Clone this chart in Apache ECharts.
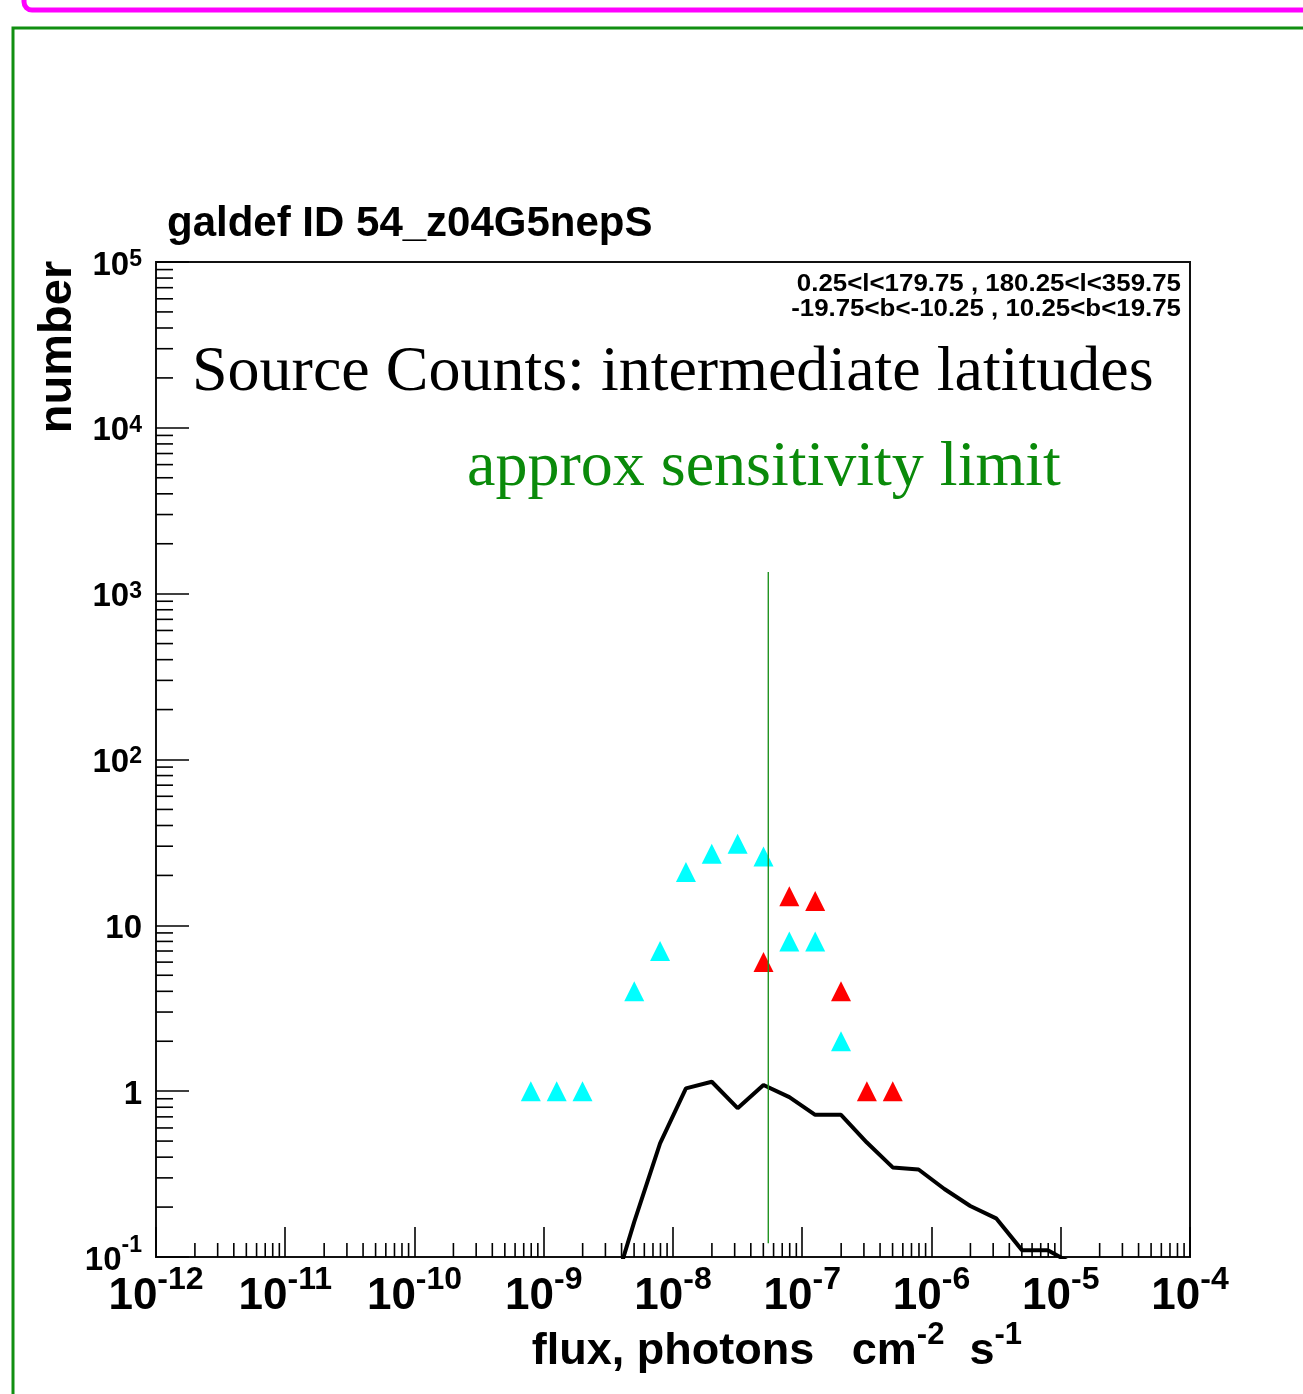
<!DOCTYPE html>
<html>
<head>
<meta charset="utf-8">
<title>Source Counts: intermediate latitudes</title>
<style>
  html, body { margin: 0; padding: 0; background: #ffffff; }
  #chart { width: 1303px; height: 1394px; }
</style>
<script src="https://cdn.jsdelivr.net/npm/echarts@6.0.0/dist/echarts.min.js"></script>
</head>
<body>
<div id="chart"></div>
<script>
// Histogram bin centres, log10(flux / photons cm^-2 s^-1), 0.2-decade bins
const fluxLogCyan = [-9.1, -8.9, -8.7, -8.3, -8.1, -7.9, -7.7, -7.5, -7.3, -7.1, -6.9, -6.7];
const countsCyan  = [1, 1, 1, 4, 7, 21, 27, 31, 26, 8, 8, 2];

const fluxLogRed = [-7.3, -7.1, -6.9, -6.7, -6.5, -6.3];
const countsRed  = [6, 15, 14, 4, 1, 1];

// Model source counts per bin
const fluxLogModel = [-8.5, -8.3, -8.1, -7.9, -7.7, -7.5, -7.3, -7.1, -6.9, -6.7,
                      -6.5, -6.3, -6.1, -5.9, -5.7, -5.5, -5.3, -5.1, -4.9];
const countsModel  = [0.05, 0.163, 0.485, 1.04, 1.14, 0.79, 1.09, 0.92, 0.72, 0.72,
                      0.49, 0.347, 0.337, 0.257, 0.203, 0.171, 0.110, 0.110, 0.09];

// Approximate sensitivity limit marker
const sensitivityFlux = 5.46e-8;
const sensitivitySpan = [0.121, 1350];

// Axis decades (tick label exponents)
const xTickExponents = [-12, -11, -10, -9, -8, -7, -6, -5, -4];
const yTickExponents = [-1, 0, 1, 2, 3, 4, 5];

const titleText = 'galdef ID 54_z04G5nepS';
const rangeLines = ['0.25<l<179.75 , 180.25<l<359.75', '-19.75<b<-10.25 , 10.25<b<19.75'];
const headline = 'Source Counts: intermediate latitudes';
const limitText = 'approx sensitivity limit';

const SANS = '"Liberation Sans", Arial, Helvetica, sans-serif';
const SERIF = '"Liberation Serif", "Times New Roman", serif';

const toFlux = l => Math.pow(10, l);
const cyanPoints  = fluxLogCyan.map((l, i) => [toFlux(l), countsCyan[i]]);
const redPoints   = fluxLogRed.map((l, i) => [toFlux(l), countsRed[i]]);
const modelPoints = fluxLogModel.map((l, i) => [toFlux(l), countsModel[i]]);
const limitPoints = sensitivitySpan.map(v => [sensitivityFlux, v]);

const xMin = toFlux(xTickExponents[0]);
const xMax = toFlux(xTickExponents[xTickExponents.length - 1]);
const yMin = toFlux(yTickExponents[0]);
const yMax = toFlux(yTickExponents[yTickExponents.length - 1]);

// Minor ticks at 2..9 x 10^n along both log axes
function renderMinorTicks(params, api) {
  const children = [];
  const tickStyle = { stroke: '#000', lineWidth: 1.6 };
  for (let i = 0; i < xTickExponents.length - 1; i++) {
    for (let k = 2; k <= 9; k++) {
      const p = api.coord([k * toFlux(xTickExponents[i]), yMin]);
      children.push({ type: 'line', shape: { x1: p[0], y1: p[1], x2: p[0], y2: p[1] - 14 }, style: tickStyle });
    }
  }
  for (let i = 0; i < yTickExponents.length - 1; i++) {
    for (let k = 2; k <= 9; k++) {
      const p = api.coord([xMin, k * toFlux(yTickExponents[i])]);
      children.push({ type: 'line', shape: { x1: p[0], y1: p[1], x2: p[0] + 17, y2: p[1] }, style: tickStyle });
    }
  }
  return { type: 'group', children: children };
}

// Superscript token: bottom padding lifts the glyphs by half its size
function supStyle(size, lineHeight, lift) {
  return { fontFamily: SANS, fontWeight: 'bold', fontSize: size, lineHeight: lineHeight,
           color: '#000', padding: [0, 0, 2 * lift, 0] };
}

const chart = echarts.init(document.getElementById('chart'), null, { renderer: 'canvas' });

chart.setOption({
  animation: false,
  backgroundColor: '#ffffff',
  grid: {
    left: 156, top: 262, width: 1034, height: 995,
    show: true, borderColor: '#111', borderWidth: 2,
    containLabel: false, outerBoundsMode: 'none'
  },
  xAxis: {
    type: 'log', logBase: 10, min: xMin, max: xMax, splitNumber: 8,
    axisLine: { show: true, onZero: false, lineStyle: { color: '#111', width: 2 } },
    axisTick: { show: true, inside: true, length: 30, lineStyle: { color: '#000', width: 1.6 } },
    splitLine: { show: false },
    minorTick: { show: false },
    axisLabel: {
      margin: 18,
      formatter: v => '{m|10}{s|' + Math.round(Math.log10(v)) + '}',
      rich: {
        m: { fontFamily: SANS, fontWeight: 'bold', fontSize: 44, lineHeight: 44, color: '#000' },
        s: supStyle(32, 10, 17)
      }
    }
  },
  yAxis: {
    type: 'log', logBase: 10, min: yMin, max: yMax, splitNumber: 6,
    axisLine: { show: true, onZero: false, lineStyle: { color: '#111', width: 2 } },
    axisTick: { show: true, inside: true, length: 33, lineStyle: { color: '#000', width: 1.6 } },
    splitLine: { show: false },
    minorTick: { show: false },
    axisLabel: {
      margin: 14,
      padding: [7, 0, 0, 0],
      formatter: v => {
        const e = Math.round(Math.log10(v));
        if (e === 0) return '{m|1}';
        if (e === 1) return '{m|10}';
        return e < 0 ? '{m|10}{n|' + e + '}' : '{m|10}{p|' + e + '}';
      },
      rich: {
        m: { fontFamily: SANS, fontWeight: 'bold', fontSize: 33, lineHeight: 33, color: '#000' },
        p: supStyle(23, 21, 6),
        n: supStyle(23, 3, 15)
      }
    }
  },
  series: [
    {
      type: 'custom', name: 'minor ticks', coordinateSystem: 'cartesian2d',
      data: [[1e-8, 1]], renderItem: renderMinorTicks, silent: true, clip: false, z: 3
    },
    {
      type: 'scatter', name: 'cyan', data: cyanPoints,
      symbol: 'triangle', symbolSize: 20, itemStyle: { color: '#00ffff', opacity: 1 }, z: 4
    },
    {
      type: 'scatter', name: 'red', data: redPoints,
      symbol: 'triangle', symbolSize: 20, itemStyle: { color: '#ff0000', opacity: 1 }, z: 4
    },
    {
      type: 'line', name: 'model', data: modelPoints, showSymbol: false, symbol: 'none',
      lineStyle: { color: '#000', width: 4 }, clip: true, z: 5
    },
    {
      type: 'line', name: 'sensitivity', data: limitPoints, showSymbol: false, symbol: 'none',
      lineStyle: { color: '#1f921f', width: 1.4 }, clip: true, z: 6
    }
  ],
  graphic: [
    { type: 'rect', silent: true, shape: { x: 24, y: -120, width: 1400, height: 130, r: 8 },
      style: { fill: 'none', stroke: '#ff00ff', lineWidth: 5 } },
    { type: 'rect', silent: true, shape: { x: 13, y: 28, width: 1400, height: 1500 },
      style: { fill: 'none', stroke: '#118f11', lineWidth: 3 } },
    { type: 'text', silent: true, x: 167, y: 224,
      style: { text: titleText, font: 'bold 42px ' + SANS, fill: '#000', align: 'left', verticalAlign: 'middle' } },
    { type: 'text', silent: true, x: 1181, y: 285, scaleX: 1.125,
      style: { text: rangeLines[0], font: 'bold 23px ' + SANS, fill: '#000', align: 'right', verticalAlign: 'middle' } },
    { type: 'text', silent: true, x: 1181, y: 310, scaleX: 1.125,
      style: { text: rangeLines[1], font: 'bold 23px ' + SANS, fill: '#000', align: 'right', verticalAlign: 'middle' } },
    { type: 'text', silent: true, x: 192, y: 373,
      style: { text: headline, font: '64px ' + SERIF, fill: '#000', align: 'left', verticalAlign: 'middle' } },
    { type: 'text', silent: true, x: 467, y: 468,
      style: { text: limitText, font: '64px ' + SERIF, fill: '#0a8a0a', align: 'left', verticalAlign: 'middle' } },
    { type: 'text', silent: true, x: 58, y: 347, rotation: Math.PI / 2,
      style: { text: 'number', font: 'bold 47px ' + SANS, fill: '#000', align: 'center', verticalAlign: 'middle' } },
    { type: 'text', silent: true, x: 1022, y: 1352,
      style: {
        text: '{a|flux, photons   cm}{s|-2}{a|  s}{s|-1}',
        font: 'bold 45px ' + SANS, fill: '#000', align: 'right', verticalAlign: 'middle',
        rich: {
          a: { fontFamily: SANS, fontWeight: 'bold', fontSize: 45, lineHeight: 44, fill: '#000' },
          s: { fontFamily: SANS, fontWeight: 'bold', fontSize: 31, lineHeight: 10, fill: '#000', padding: [0, 0, 34, 0] }
        }
      } }
  ]
});
</script>
</body>
</html>
